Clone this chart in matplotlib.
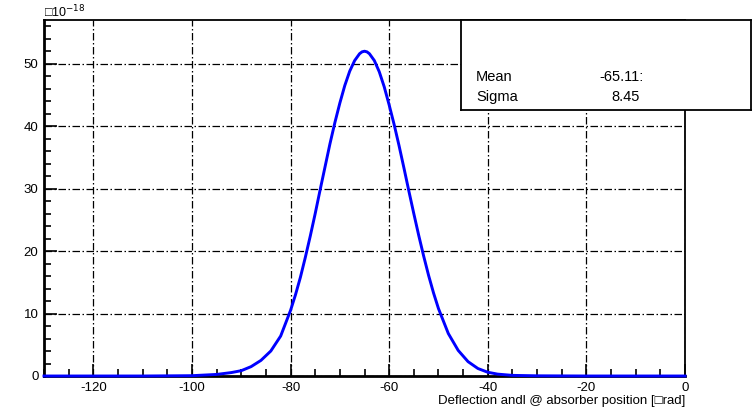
import matplotlib.pyplot as plt
from matplotlib.ticker import MultipleLocator

plt.rcParams['font.family'] = ['Liberation Sans', 'DejaVu Sans']

# deflection angle (urad) and counts (x1e-18)
angle = [-130, -110, -100, -95, -92, -90, -88, -86, -84, -82, -80, -79, -78,
         -77, -76, -75, -74, -73, -72, -71, -70, -69, -68, -67, -66, -65.5,
         -65, -64.5, -64, -63, -62, -61, -60, -59, -58, -57, -56, -55, -54,
         -53, -52, -51, -50, -48, -46, -44, -42, -40, -38, -35, -30, -20, 0]
counts = [0, 0, 0.05, 0.25, 0.55, 0.85, 1.5, 2.5, 4.0, 6.4, 10.5, 13.0, 15.8,
          19.0, 22.4, 26.0, 29.8, 33.5, 37.2, 40.6, 43.7, 46.5, 48.8, 50.5,
          51.6, 51.9, 52.0, 51.9, 51.6, 50.5, 48.7, 46.3, 43.4, 40.3, 36.9,
          33.3, 29.6, 26.0, 22.5, 19.2, 16.1, 13.3, 10.8, 6.8, 4.1, 2.3, 1.2,
          0.6, 0.3, 0.1, 0.03, 0, 0]

stat_names = ['Mean', 'Sigma']
stat_values = ['-65.11:', '8.45']

fig = plt.figure(figsize=(7.55, 4.09), dpi=100)
# axes in pixels: left 44, right 685, top 20, bottom 376
ax = fig.add_axes([44 / 755, 1 - 376 / 409, 641 / 755, 356 / 409])

ax.plot(angle, counts, color='#0000ff', lw=2.1, clip_on=False, zorder=3,
        solid_joinstyle='round')
ax.set_xlim(-130, 0)
ax.set_ylim(0, 57)

ax.xaxis.set_major_locator(MultipleLocator(20))
ax.xaxis.set_minor_locator(MultipleLocator(5))
ax.yaxis.set_major_locator(MultipleLocator(10))
ax.yaxis.set_minor_locator(MultipleLocator(2))
ax.tick_params(which='both', direction='in', top=False, right=False,
               labelsize=9.5, width=1.2)
ax.tick_params(which='major', length=9, pad=4)
ax.tick_params(which='minor', length=5)
ax.set_xticklabels([f'{int(v)}' for v in ax.get_xticks()])

ax.grid(True, which='major', color='black', lw=0.9, dashes=(6, 2, 1.2, 2))
for s in ax.spines.values():
    s.set_linewidth(1.3)
ax.spines['left'].set_linewidth(2)
ax.spines['bottom'].set_linewidth(2)

fig.text(685 / 755, 1 - 401 / 409, 'Deflection andl @ absorber position [\u25a1rad]',
         ha='right', va='center', fontsize=9.5)
fig.text(44 / 755, 1 - 12 / 409, '\u25a110$^{-18}$', ha='left', va='center',
         fontsize=9)

# stats box
bx = fig.add_axes([461 / 755, 1 - 110 / 409, 290 / 755, 90 / 409])
bx.set_xticks([])
bx.set_yticks([])
for s in bx.spines.values():
    s.set_linewidth(1.3)
for i, (n, v) in enumerate(zip(stat_names, stat_values)):
    y = 1 - (77 + 20 * i - 20) / 90
    bx.text(15 / 290, y, n, ha='left', va='center', fontsize=10.5,
            transform=bx.transAxes)
    bx.text(183 / 290 if i == 0 else 179 / 290, y, v, ha='right', va='center',
            fontsize=10.5, transform=bx.transAxes)

fig.savefig('out.png', dpi=100)
